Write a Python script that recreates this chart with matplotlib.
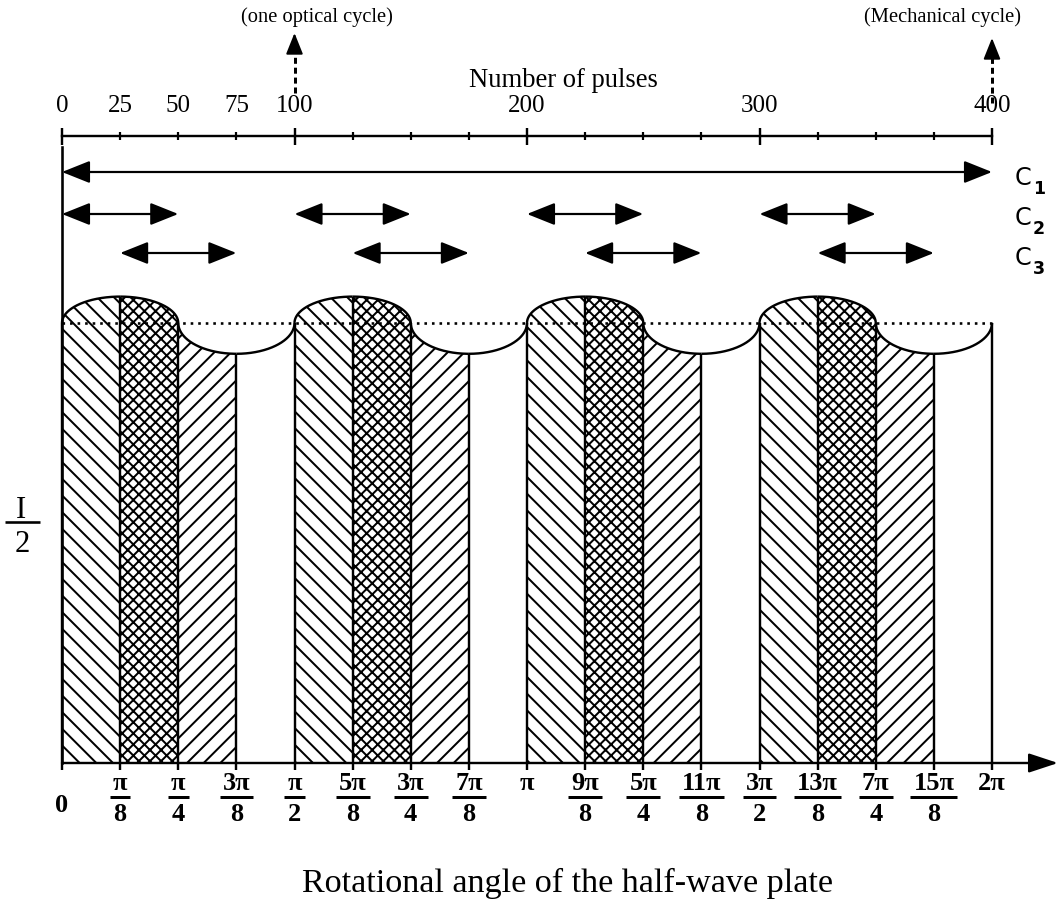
import numpy as np
import matplotlib
matplotlib.use("Agg")
import matplotlib.pyplot as plt
from matplotlib.ticker import FixedLocator, FuncFormatter

# ---------------- data ----------------
level = 1.0          # dotted mean level (I/2)
peak = 1.06          # top of hump
trough = 0.93        # bottom of dip
cycle_starts = [0.0, 0.5, 1.0, 1.5]          # in units of pi (one optical cycle = pi/2)
segment_hatches = ["\\\\\\\\", "xxxxxx", "////"]   # 0-pi/8, pi/8-pi/4, pi/4-3pi/8 ; 3pi/8-pi/2 empty
angle_num = ["0", "π", "π", "3π", "π", "5π", "3π", "7π", "π",
             "9π", "5π", "11π", "3π", "13π", "7π", "15π", "2π"]
angle_den = ["", "8", "4", "8", "2", "8", "4", "8", "",
             "8", "4", "8", "2", "8", "4", "8", ""]
pulse_major = [0, 100, 200, 300, 400]
pulse_minor = [25, 50, 75, 125, 150, 175, 225, 250, 275, 325, 350, 375]
pulse_minor_labels = {25: "25", 50: "50", 75: "75"}
c_names = ["1", "2", "3"]
c1_spans = [(0, 400)]
c2_spans = [(0, 50), (100, 150), (200, 250), (300, 350)]
c3_spans = [(25, 75), (125, 175), (225, 275), (325, 375)]
pulses_total = 400

# ---------------- layout helpers ----------------
DPI = 200
W, H = 1063, 914
def pt(px):
    return px * 72.0 / DPI

X0, X1 = 62, 992       # pixel x of 0 and 2pi
YB, YL, YT = 763, 323, 136   # pixel y of baseline, level, top axis

def X(px):
    return (px - X0) / (X1 - X0) * 2 * np.pi

def Y(py):
    return (YB - py) / (YB - YL)

def P(p):
    return p * 2 * np.pi / pulses_total

plt.rcParams["font.family"] = ["Liberation Serif", "DejaVu Serif"]
plt.rcParams["hatch.linewidth"] = pt(2.0)
plt.rcParams["hatch.color"] = "black"

fig = plt.figure(figsize=(W / DPI, H / DPI), dpi=DPI)
ax = fig.add_axes([X0 / W, (H - YB) / H, (X1 - X0) / W, (YB - YT) / H])
ax.set_xlim(0, 2 * np.pi)
ax.set_ylim(0, Y(YT))
for s in ax.spines.values():
    s.set_visible(False)
ax.set_yticks([])

q = np.pi / 8

def profile(t):
    u = np.mod(t, np.pi / 2)
    hump = level + (peak - level) * np.sqrt(np.clip(1 - ((u - q) / q) ** 2, 0, 1))
    dip = level - (level - trough) * np.sqrt(np.clip(1 - ((u - 3 * q) / q) ** 2, 0, 1))
    return np.where(u < np.pi / 4, hump, dip)

def seg_x(a, b, n=300):
    return a + (b - a) * (1 - np.cos(np.linspace(0, np.pi, n))) / 2

LW = pt(2.4)
# hatched regions
for c in cycle_starts:
    base = c * np.pi
    for k, h in enumerate(segment_hatches):
        a, b = base + k * q, base + (k + 1) * q
        xs = seg_x(a, b)
        ys = profile(xs)
        ys[0] = profile(np.array([a + 1e-9]))[0]
        ax.fill_between(xs, 0, ys, facecolor="none", edgecolor="black",
                        hatch=h, linewidth=0)

# curve
for k in range(16):
    a, b = k * q, (k + 1) * q
    xs = seg_x(a + 1e-9, b - 1e-9)
    ax.plot(xs, profile(xs), color="black", lw=LW, solid_capstyle="butt",
            clip_on=False)

# vertical boundaries
vx = []
for c in cycle_starts:
    base = c * np.pi
    vx += [base, base + q, base + 2 * q, base + 3 * q]
vx.append(2 * np.pi)
vx = np.array(vx)
ax.vlines(vx, 0, profile(vx + 1e-9), color="black", lw=LW, clip_on=False)

# dotted level
ax.plot([0, 2 * np.pi], [level, level], color="black", lw=pt(2.6),
        linestyle=(0, (1.0, 1.9)), clip_on=False)

# left axis line
ax.plot([0, 0], [0, Y(147)], color="black", lw=pt(2.6), clip_on=False)

# bottom axis with arrow
ax.annotate("", xy=(X(1058), 0), xytext=(0, 0), annotation_clip=False,
            arrowprops=dict(arrowstyle="-|>,head_length=1.0,head_width=0.33",
                            mutation_scale=pt(25), color="black", lw=pt(2.4),
                            shrinkA=0, shrinkB=0))
ax.set_xticks([k * q for k in range(17)])
ax.tick_params(axis="x", direction="out", length=pt(7), width=pt(2.4),
               labelbottom=False)

# bottom labels (fractions)
fig.canvas.draw()
renderer = fig.canvas.get_renderer()
FS_B = 9.5
for k, (num, den) in enumerate(zip(angle_num, angle_den)):
    x = k * q
    if den:
        t = ax.text(x, Y(790), num, ha="center", va="baseline", fontsize=FS_B,
                    fontweight="bold")
        ax.text(x, Y(821), den, ha="center", va="baseline", fontsize=FS_B,
                fontweight="bold")
        wpx = t.get_window_extent(renderer).width + 6
        w = wpx / (X1 - X0) * 2 * np.pi
        ax.plot([x - w / 2, x + w / 2], [Y(797), Y(797)], color="black",
                lw=pt(3.0), clip_on=False, solid_capstyle="butt")
    else:
        yb = 812 if num == "0" else 790
        ax.text(x, Y(yb), num, ha="center", va="baseline", fontsize=FS_B,
                fontweight="bold")

# top axis: number of pulses
secax = ax.secondary_xaxis("top", functions=(lambda t: t * pulses_total / (2 * np.pi),
                                             lambda p: p * 2 * np.pi / pulses_total))
secax.xaxis.set_major_locator(FixedLocator(pulse_major))
secax.xaxis.set_minor_locator(FixedLocator(pulse_minor))
secax.xaxis.set_major_formatter(FuncFormatter(lambda v, pos: f"{v:.0f}"))
secax.xaxis.set_minor_formatter(FuncFormatter(
    lambda v, pos: pulse_minor_labels.get(int(round(v)), "")))
secax.tick_params(which="major", direction="inout", length=pt(17), width=pt(2.4),
                  pad=pt(10), labelsize=9)
secax.tick_params(which="minor", direction="inout", length=pt(8), width=pt(2.2),
                  pad=pt(14.5), labelsize=9)
secax.spines["top"].set_linewidth(pt(2.4))
ax.text(X(563), Y(87), "Number of pulses", ha="center", va="baseline", fontsize=9.6)

# dashed upward arrows
for p, ybot, ytip, label, lx in [(100, 93, 33, "(one optical cycle)", 317),
                                 (400, 103, 38, "(Mechanical cycle)", 943)]:
    x = P(p)
    ax.plot([x, x], [Y(ybot), Y(ytip + 14)], color="black", lw=pt(3.0),
            linestyle=(0, (2.0, 1.3)), clip_on=False)
    ax.annotate("", xy=(x, Y(ytip)), xytext=(x, Y(ytip + 18)), annotation_clip=False,
                arrowprops=dict(arrowstyle="-|>,head_length=1.0,head_width=0.4",
                                mutation_scale=pt(18), color="black", lw=pt(2),
                                shrinkA=0, shrinkB=0))
    ax.text(X(lx), Y(17), label, ha="center", va="center", fontsize=7.4)

# C1, C2, C3 double arrows
rows = [(c1_spans, 172, 178), (c2_spans, 214, 218), (c3_spans, 253, 258)]
for (spans, ya, yt), name in zip(rows, c_names):
    for a, b in spans:
        ax.annotate("", xy=(P(b), Y(ya)), xytext=(P(a), Y(ya)), annotation_clip=False,
                    arrowprops=dict(arrowstyle="<|-|>,head_length=1.0,head_width=0.4",
                                    mutation_scale=pt(24), color="black", lw=pt(2.2),
                                    shrinkA=0, shrinkB=0))
    ax.text(X(1023), Y(yt), "C", ha="center", va="center", fontsize=8.6,
            family="DejaVu Sans")
    ax.text(X(1039), Y(yt + 11), name, ha="center", va="center", fontsize=6.3,
            family="DejaVu Sans", fontweight="bold")

# I/2 label
ax.text(X(21), Y(518), "I", ha="center", va="baseline", fontsize=11)
ax.plot([X(5), X(40)], [Y(522), Y(522)], color="black", lw=pt(2.6), clip_on=False,
        solid_capstyle="butt")
ax.text(X(22), Y(552), "2", ha="center", va="baseline", fontsize=11)

# x title
ax.text(X(568), Y(883), "Rotational angle of the half-wave plate", ha="center",
        va="center", fontsize=12.3)

fig.savefig("out.png", dpi=DPI)
